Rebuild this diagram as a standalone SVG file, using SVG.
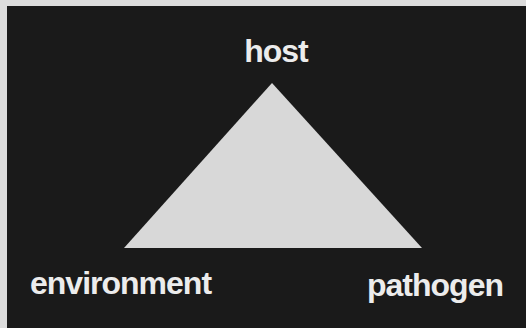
<svg xmlns="http://www.w3.org/2000/svg" width="526" height="328" viewBox="0 0 526 328">
<style>
.lbl{font-family:"Liberation Sans",Arial,sans-serif;font-weight:bold;font-size:32px;fill:#ececec;letter-spacing:-1px}
</style>
<rect x="0" y="0" width="526" height="328" fill="#dcdcdc"/>
<rect x="7" y="6" width="519" height="322" fill="#1a1a1a"/>
<g id="triangle">
<polygon points="272,83 124,248 422,248" fill="#d8d8d8"/>
</g>
<g id="host"><text class="lbl" x="276" y="62" text-anchor="middle">host</text></g>
<g id="environment"><text class="lbl" x="30" y="294">environment</text></g>
<g id="pathogen"><text class="lbl" x="367" y="296">pathogen</text></g>
<g id="connectors"></g>
</svg>
